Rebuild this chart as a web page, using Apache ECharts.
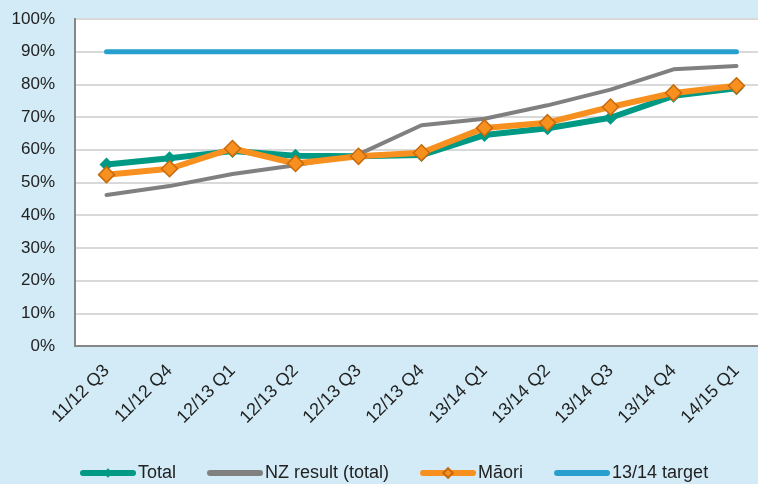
<!DOCTYPE html>
<html lang="en">
<head>
  <meta charset="UTF-8">
  <title>Results by quarter</title>
  <script src="https://cdn.jsdelivr.net/npm/echarts/dist/echarts.min.js"></script>
  <style>
    html, body { margin: 0; padding: 0; background: #d2ebf6; }
    #chart { width: 758px; height: 484px; }
  </style>
</head>
<body>
<div id="chart"></div>
<script>
    // quarters on the x axis
    const quarters = ['11/12 Q3', '11/12 Q4', '12/13 Q1', '12/13 Q2', '12/13 Q3', '12/13 Q4',
                      '13/14 Q1', '13/14 Q2', '13/14 Q3', '13/14 Q4', '14/15 Q1'];
    // percent values
    const total    = [55.5, 57.4, 59.6, 58.2, 58.0, 58.4, 64.5, 66.6, 69.8, 76.5, 78.8];
    const nzTotal  = [46.2, 48.9, 52.6, 55.3, 58.6, 67.5, 69.5, 73.6, 78.4, 84.6, 85.6];
    const maori    = [52.4, 54.2, 60.4, 55.8, 58.0, 59.1, 66.7, 68.3, 73.1, 77.4, 79.6];
    const target   = [90, 90, 90, 90, 90, 90, 90, 90, 90, 90, 90];
    const yTicks   = [0, 10, 20, 30, 40, 50, 60, 70, 80, 90, 100];

    const font = '"Liberation Sans", Arial, sans-serif';

    const chart = echarts.init(document.getElementById('chart'));
    chart.setOption({
        backgroundColor: '#d2ebf6',
        animation: false,
        textStyle: { fontFamily: font },
        // plot area runs past the right edge of the picture
        grid: {
            left: 75, top: 19, width: 693, height: 327,
            outerBoundsMode: 'none', containLabel: false,
            show: true, backgroundColor: '#ffffff',
            borderColor: '#868686', borderWidth: 2
        },
        legend: {
            top: 459,
            left: 75,
            itemWidth: 50,
            itemHeight: 12,
            itemGap: 31,
            lineStyle: { width: 6, cap: 'round' },
            data: [
                { name: 'Total' },
                { name: 'NZ result (total)', itemStyle: { opacity: 0 } },
                { name: 'Māori' },
                { name: '13/14 target', itemStyle: { opacity: 0 } }
            ],
            textStyle: { fontSize: 18, color: '#222', fontFamily: font }
        },
        xAxis: {
            type: 'category',
            data: quarters,
            axisLine: { lineStyle: { color: '#868686', width: 2 } },
            axisTick: { show: false },
            axisLabel: {
                rotate: 45, fontSize: 18, color: '#222', margin: 22,
                interval: 0, fontFamily: font
            }
        },
        yAxis: {
            type: 'value',
            min: yTicks[0], max: yTicks[yTicks.length - 1], interval: 10,
            axisLine: { show: true, lineStyle: { color: '#868686', width: 2 } },
            axisTick: { show: false },
            splitLine: { lineStyle: { color: '#d9d9d9', width: 2 } },
            axisLabel: { formatter: '{value}%', fontSize: 17, color: '#222', margin: 20, fontFamily: font }
        },
        series: [
            {
                name: '13/14 target', type: 'line', data: target,
                symbol: 'none', z: 2,
                lineStyle: { color: '#27a0cf', width: 5, cap: 'round' },
                itemStyle: { color: '#27a0cf' }
            },
            {
                name: 'NZ result (total)', type: 'line', data: nzTotal,
                symbol: 'none', z: 3,
                lineStyle: { color: '#808080', width: 4, cap: 'round' },
                itemStyle: { color: '#808080' }
            },
            {
                name: 'Total', type: 'line', data: total,
                symbol: 'diamond', symbolSize: 14, z: 4,
                lineStyle: { color: '#009a84', width: 6 },
                itemStyle: { color: '#009a84' }
            },
            {
                name: 'Māori', type: 'line', data: maori,
                symbol: 'diamond', symbolSize: 16, z: 5,
                lineStyle: { color: '#f7901e', width: 6 },
                itemStyle: { color: '#f7901e', borderColor: '#c66a0c', borderWidth: 1.5 }
            }
        ]
    });
</script>
</body>
</html>
